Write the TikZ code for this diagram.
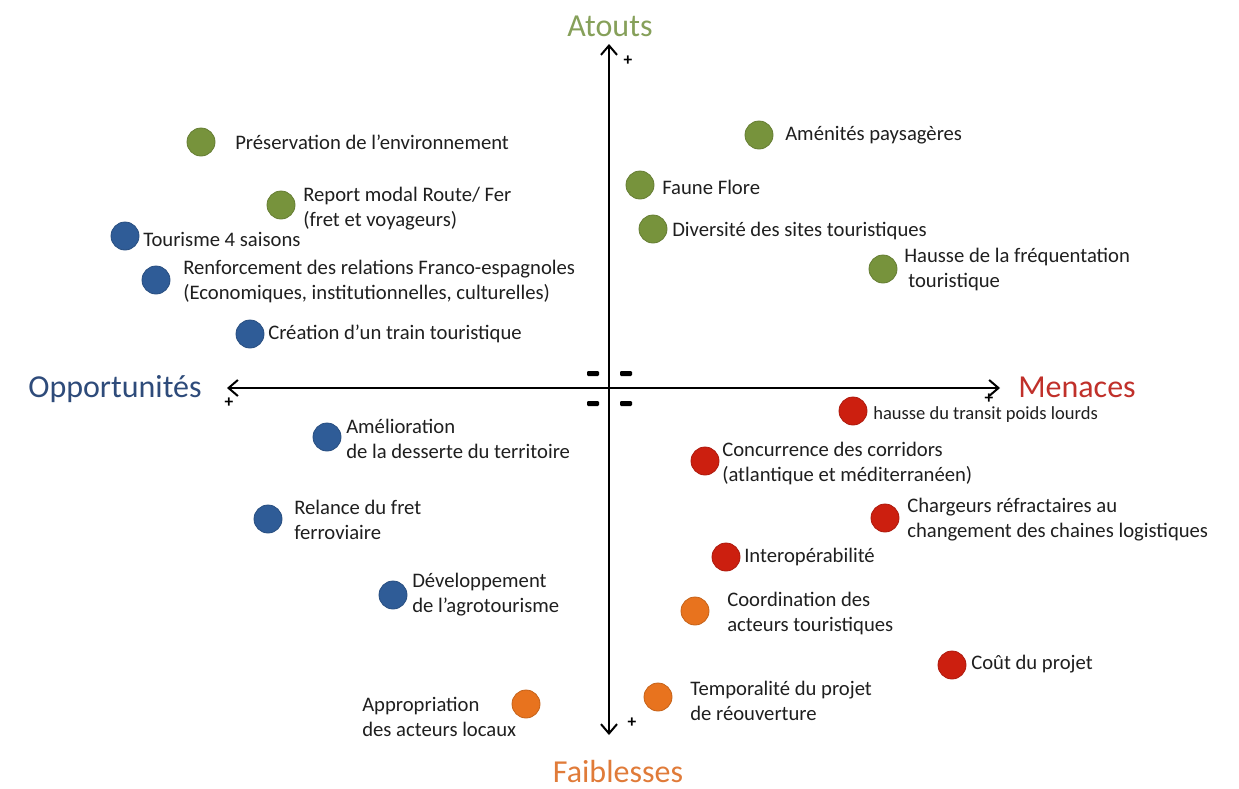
\documentclass[tikz,border=0pt]{standalone}
\usepackage{fontspec}
\setmainfont{Carlito}
\usetikzlibrary{arrows.meta}
\definecolor{atoutcol}{HTML}{86A05A}
\definecolor{oppcol}{HTML}{2E4B7A}
\definecolor{mencol}{HTML}{C0302A}
\definecolor{faibcol}{HTML}{E07B39}
\definecolor{dotgreen}{HTML}{77933C}
\definecolor{dotblue}{HTML}{2F5C97}
\definecolor{dotred}{HTML}{CC1F0F}
\definecolor{dotorange}{HTML}{E8731E}
\tikzset{
  dot/.style={circle, minimum size=21pt, inner sep=0pt, fill=#1, draw=#1!85!black, line width=0.6pt},
  lbl/.style={anchor=west, inner sep=0pt, align=left, font=\fontsize{15.5}{18.75}\selectfont, text=black!88},
  title/.style={inner sep=0pt, font=\fontsize{24}{28}\selectfont},
  axis/.style={line width=1.5pt, {Straight Barb[length=7pt,width=12pt,line width=1.5pt]}-{Straight Barb[length=7pt,width=12pt,line width=1.5pt]}},
  plus/.style={inner sep=0pt, font=\bfseries\fontsize{13}{13}\selectfont},
  minusbar/.style={fill=black, rounded corners=0.8pt}
}
\begin{document}
\begin{tikzpicture}[x=0.75pt,y=-0.75pt]
\useasboundingbox (0,0) rectangle (1239,789);

% axes
\coordinate (top) at (609,44);
\coordinate (bot) at (609,735);
\coordinate (lft) at (227,388);
\coordinate (rgt) at (1000,388);
\draw[axis] (bot) -- (top);
\draw[axis] (lft) -- (rgt);

% axis signs
\node[plus] (ptop) at (628,61) {+};
\node[plus] (plft) at (229,403) {+};
\node[plus] (prgt) at (989,399) {+};
\node[plus] (pbot) at (632,723) {+};
\fill[minusbar] (587,371) rectangle (599,376);
\fill[minusbar] (620,371) rectangle (632,376);
\fill[minusbar] (587,401) rectangle (599,406);
\fill[minusbar] (620,401) rectangle (632,406);

% quadrant titles
\node[title, text=atoutcol] (tA) at (610,26) {Atouts};
\node[title, text=oppcol] (tO) at (115,389) {Opportunités};
\node[title, text=mencol] (tM) at (1077,387) {Menaces};
\node[title, text=faibcol] (tF) at (618,771) {Faiblesses};

% atouts
\node[dot=dotgreen] (g1) at (201,142) {};
\node[lbl] (g1t) at (235,142) {Préservation de l’environnement};
\node[dot=dotgreen] (g2) at (281,205) {};
\node[lbl] (g2t) at (303,209) {Report modal Route/ Fer\\(fret et voyageurs)};
\node[dot=dotgreen] (g3) at (759,135) {};
\node[lbl] (g3t) at (785,135) {Aménités paysagères};
\node[dot=dotgreen] (g4) at (640,185) {};
\node[lbl] (g4t) at (662,187) {Faune Flore};
\node[dot=dotgreen] (g5) at (653,229) {};
\node[lbl] (g5t) at (672,231) {Diversité des sites touristiques};
\node[dot=dotgreen] (g6) at (883,269) {};
\node[lbl] (g6t) at (904,269) {Hausse de la fréquentation\\\hspace*{3pt}touristique};

% opportunites
\node[dot=dotblue] (b1) at (125,236) {};
\node[lbl] (b1t) at (143,239) {Tourisme 4 saisons};
\node[dot=dotblue] (b2) at (156,280) {};
\node[lbl] (b2t) at (183,281) {Renforcement des relations Franco-espagnoles\\(Economiques, institutionnelles, culturelles)};
\node[dot=dotblue] (b3) at (250,334) {};
\node[lbl] (b3t) at (268,334) {Création d’un train touristique};
\node[dot=dotblue] (b4) at (327,437) {};
\node[lbl] (b4t) at (346,439) {Amélioration\\de la desserte du territoire};
\node[dot=dotblue] (b5) at (268,519) {};
\node[lbl] (b5t) at (294,520) {Relance du fret\\ferroviaire};
\node[dot=dotblue] (b6) at (393,595) {};
\node[lbl] (b6t) at (412,595) {Développement\\de l’agrotourisme};

% menaces
\node[dot=dotred] (r1) at (853,411) {};
\node[lbl, font=\fontsize{13.9}{17}\selectfont] (r1t) at (873,415) {hausse du transit poids lourds};
\node[dot=dotred] (r2) at (705,461) {};
\node[lbl] (r2t) at (722,463) {Concurrence des corridors\\(atlantique et méditerranéen)};
\node[dot=dotred] (r3) at (885,518) {};
\node[lbl] (r3t) at (907,520) {Chargeurs réfractaires au\\changement des chaines logistiques};
\node[dot=dotred] (r4) at (726,557) {};
\node[lbl] (r4t) at (744,557) {Interopérabilité};
\node[dot=dotred] (r5) at (952,665) {};
\node[lbl] (r5t) at (971,664) {Coût du projet};

% faiblesses
\node[dot=dotorange] (o1) at (695,611) {};
\node[lbl] (o1t) at (727,613) {Coordination des\\acteurs touristiques};
\node[dot=dotorange] (o2) at (658,697) {};
\node[lbl] (o2t) at (690,701) {Temporalité du projet\\de réouverture};
\node[dot=dotorange] (o3) at (526,704) {};
\node[lbl] (o3t) at (362,717) {Appropriation\\des acteurs locaux};
\end{tikzpicture}
\end{document}
